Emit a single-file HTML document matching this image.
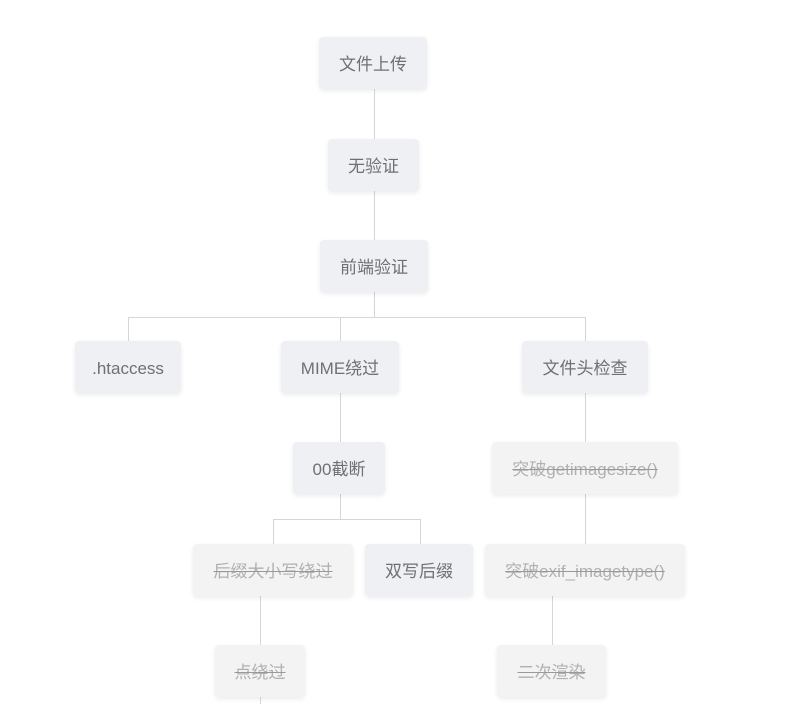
<!DOCTYPE html>
<html><head><meta charset="utf-8"><style>
html,body{margin:0;padding:0;background:#fff;width:788px;height:704px;overflow:hidden;position:relative;font-family:"Liberation Sans","Noto Sans CJK SC",sans-serif;}
.n{position:absolute;height:52px;line-height:56px;text-align:center;font-size:17px;color:#707070;background:#eff0f4;border-radius:4px;box-shadow:0 2px 5px rgba(0,0,0,0.08);box-sizing:border-box;}
.d{background:#f3f3f4;color:#b0b0b0;text-decoration:line-through;text-decoration-color:#999;}
svg{position:absolute;left:0;top:0;}
</style></head><body>
<svg width="788" height="704"><g stroke="#d6d6d6" stroke-width="1" fill="none">
<path d="M374.5 89V140M374.5 191V241M374.5 292V317.5M128.5 317.5H585.5M128.5 317V342M340.5 317V342M585.5 317V342"/>
<path d="M340.5 393V443M340.5 494V519.5M273.5 519.5H420.5M273.5 519V544M420.5 519V544"/>
<path d="M585.5 393V443M585.5 494V544M552.5 596V646M260.5 596V646M260.5 697V704"/>
</g></svg>
<div class="n" style="left:319px;top:37px;width:108px;">文件上传</div>
<div class="n" style="left:328px;top:139px;width:91px;">无验证</div>
<div class="n" style="left:320px;top:240px;width:108px;">前端验证</div>
<div class="n" style="left:75px;top:341px;width:106px;">.htaccess</div>
<div class="n" style="left:281px;top:341px;width:118px;">MIME绕过</div>
<div class="n" style="left:522px;top:341px;width:126px;">文件头检查</div>
<div class="n" style="left:293px;top:442px;width:92px;">00截断</div>
<div class="n d" style="left:492px;top:442px;width:186px;">突破getimagesize()</div>
<div class="n d" style="left:193px;top:544px;width:160px;">后缀大小写绕过</div>
<div class="n" style="left:365px;top:544px;width:108px;">双写后缀</div>
<div class="n d" style="left:485px;top:544px;width:200px;">突破exif_imagetype()</div>
<div class="n d" style="left:215px;top:645px;width:90px;">点绕过</div>
<div class="n d" style="left:497px;top:645px;width:109px;">二次渲染</div>
</body></html>
